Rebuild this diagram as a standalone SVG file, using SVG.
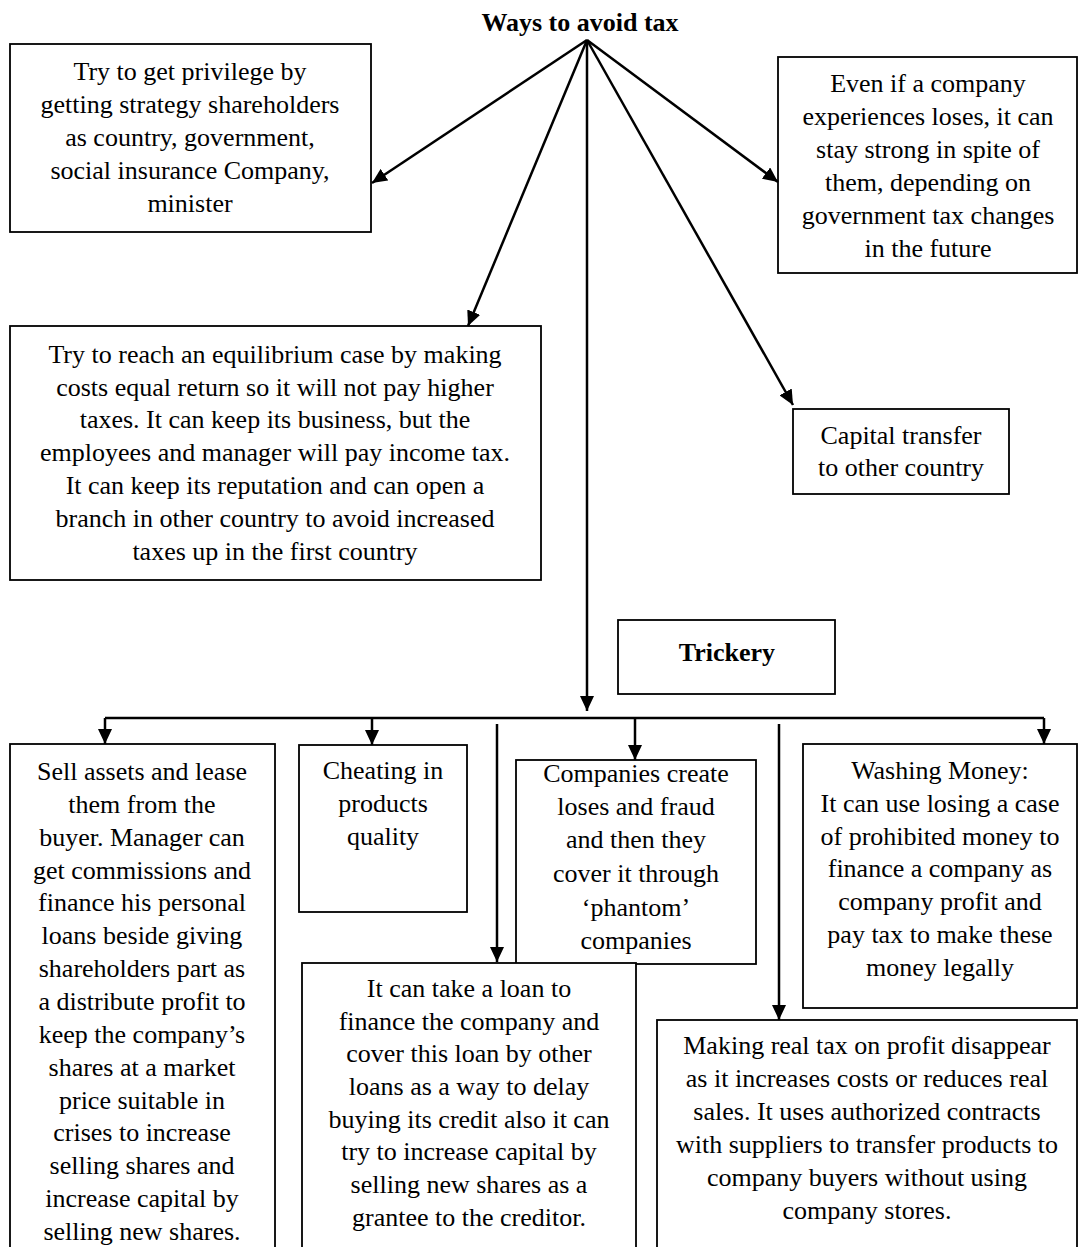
<svg xmlns="http://www.w3.org/2000/svg" width="1079" height="1247" viewBox="0 0 1079 1247">
<style>
text{font-family:"Liberation Serif","Times New Roman",serif;font-size:26px;fill:#000;text-anchor:middle}
.b{font-weight:bold}
rect{fill:#fff;stroke:#000;stroke-width:1.8}
.c path{fill:none;stroke:#000;stroke-width:2.5}
</style>
<defs>
<marker id="ah" markerUnits="userSpaceOnUse" markerWidth="16" markerHeight="14" refX="15" refY="7" orient="auto">
<path d="M0,0 L15,7 L0,14 z" fill="#000"/>
</marker>
</defs>
<g id="title"><text class="b" x="580" y="31">Ways to avoid tax</text></g>
<g id="n1"><rect x="10" y="44" width="361" height="188"/>
<text x="190" y="80">Try to get privilege by</text>
<text x="190" y="113">getting strategy shareholders</text>
<text x="190" y="146">as country, government,</text>
<text x="190" y="179">social insurance Company,</text>
<text x="190" y="212">minister</text></g>
<g id="n2"><rect x="778" y="57" width="299" height="216"/>
<text x="928" y="92">Even if a company</text>
<text x="928" y="125">experiences loses, it can</text>
<text x="928" y="158">stay strong in spite of</text>
<text x="928" y="191">them, depending on</text>
<text x="928" y="224">government tax changes</text>
<text x="928" y="257">in the future</text></g>
<g id="n3"><rect x="10" y="326" width="531" height="254"/>
<text x="275" y="363">Try to reach an equilibrium case by making</text>
<text x="275" y="396">costs equal return so it will not pay higher</text>
<text x="275" y="428">taxes. It can keep its business, but the</text>
<text x="275" y="461">employees and manager will pay income tax.</text>
<text x="275" y="494">It can keep its reputation and can open a</text>
<text x="275" y="527">branch in other country to avoid increased</text>
<text x="275" y="560">taxes up in the first country</text></g>
<g id="n4"><rect x="793" y="409" width="216" height="85"/>
<text x="901" y="444">Capital transfer</text>
<text x="901" y="476">to other country</text></g>
<g id="n5"><rect x="618" y="620" width="217" height="74"/>
<text class="b" x="727" y="661">Trickery</text></g>
<g id="n6"><rect x="10" y="744" width="265" height="520"/>
<text x="142" y="780">Sell assets and lease</text>
<text x="142" y="813">them from the</text>
<text x="142" y="846">buyer. Manager can</text>
<text x="142" y="879">get commissions and</text>
<text x="142" y="911">finance his personal</text>
<text x="142" y="944">loans beside giving</text>
<text x="142" y="977">shareholders part as</text>
<text x="142" y="1010">a distribute profit to</text>
<text x="142" y="1043">keep the company’s</text>
<text x="142" y="1076">shares at a market</text>
<text x="142" y="1109">price suitable in</text>
<text x="142" y="1141">crises to increase</text>
<text x="142" y="1174">selling shares and</text>
<text x="142" y="1207">increase capital by</text>
<text x="142" y="1240">selling new shares.</text></g>
<g id="n7"><rect x="299" y="745" width="168" height="167"/>
<text x="383" y="779">Cheating in</text>
<text x="383" y="812">products</text>
<text x="383" y="845">quality</text></g>
<g id="n8"><rect x="516" y="760" width="240" height="204"/>
<text x="636" y="782">Companies create</text>
<text x="636" y="815">loses and fraud</text>
<text x="636" y="848">and then they</text>
<text x="636" y="882">cover it through</text>
<text x="636" y="916">‘phantom’</text>
<text x="636" y="949">companies</text></g>
<g id="n9"><rect x="803" y="744" width="274" height="264"/>
<text x="940" y="779">Washing Money:</text>
<text x="940" y="812">It can use losing a case</text>
<text x="940" y="845">of prohibited money to</text>
<text x="940" y="877">finance a company as</text>
<text x="940" y="910">company profit and</text>
<text x="940" y="943">pay tax to make these</text>
<text x="940" y="976">money legally</text></g>
<g id="n10"><rect x="302" y="963" width="334" height="300"/>
<text x="469" y="997">It can take a loan to</text>
<text x="469" y="1030">finance the company and</text>
<text x="469" y="1062">cover this loan by other</text>
<text x="469" y="1095">loans as a way to delay</text>
<text x="469" y="1128">buying its credit also it can</text>
<text x="469" y="1160">try to increase capital by</text>
<text x="469" y="1193">selling new shares as a</text>
<text x="469" y="1226">grantee to the creditor.</text></g>
<g id="n11"><rect x="657" y="1020" width="420" height="250"/>
<text x="867" y="1054">Making real tax on profit disappear</text>
<text x="867" y="1087">as it increases costs or reduces real</text>
<text x="867" y="1120">sales. It uses authorized contracts</text>
<text x="867" y="1153">with suppliers to transfer products to</text>
<text x="867" y="1186">company buyers without using</text>
<text x="867" y="1219">company stores.</text></g>
<g id="connectors" class="c">
<path d="M587,40 L372,183" marker-end="url(#ah)"/>
<path d="M587,40 L778,182" marker-end="url(#ah)"/>
<path d="M587,40 L468,326" marker-end="url(#ah)"/>
<path d="M587,40 L793,405" marker-end="url(#ah)"/>
<path d="M587,40 L587,711" marker-end="url(#ah)"/>
<path d="M105,718 H1044"/>
<path d="M105,718 V744" marker-end="url(#ah)"/>
<path d="M372,718 V745" marker-end="url(#ah)"/>
<path d="M635,718 V760" marker-end="url(#ah)"/>
<path d="M1044,718 V744" marker-end="url(#ah)"/>
<path d="M497,724 V962" marker-end="url(#ah)"/>
<path d="M779,724 V1020" marker-end="url(#ah)"/>
</g>
</svg>
